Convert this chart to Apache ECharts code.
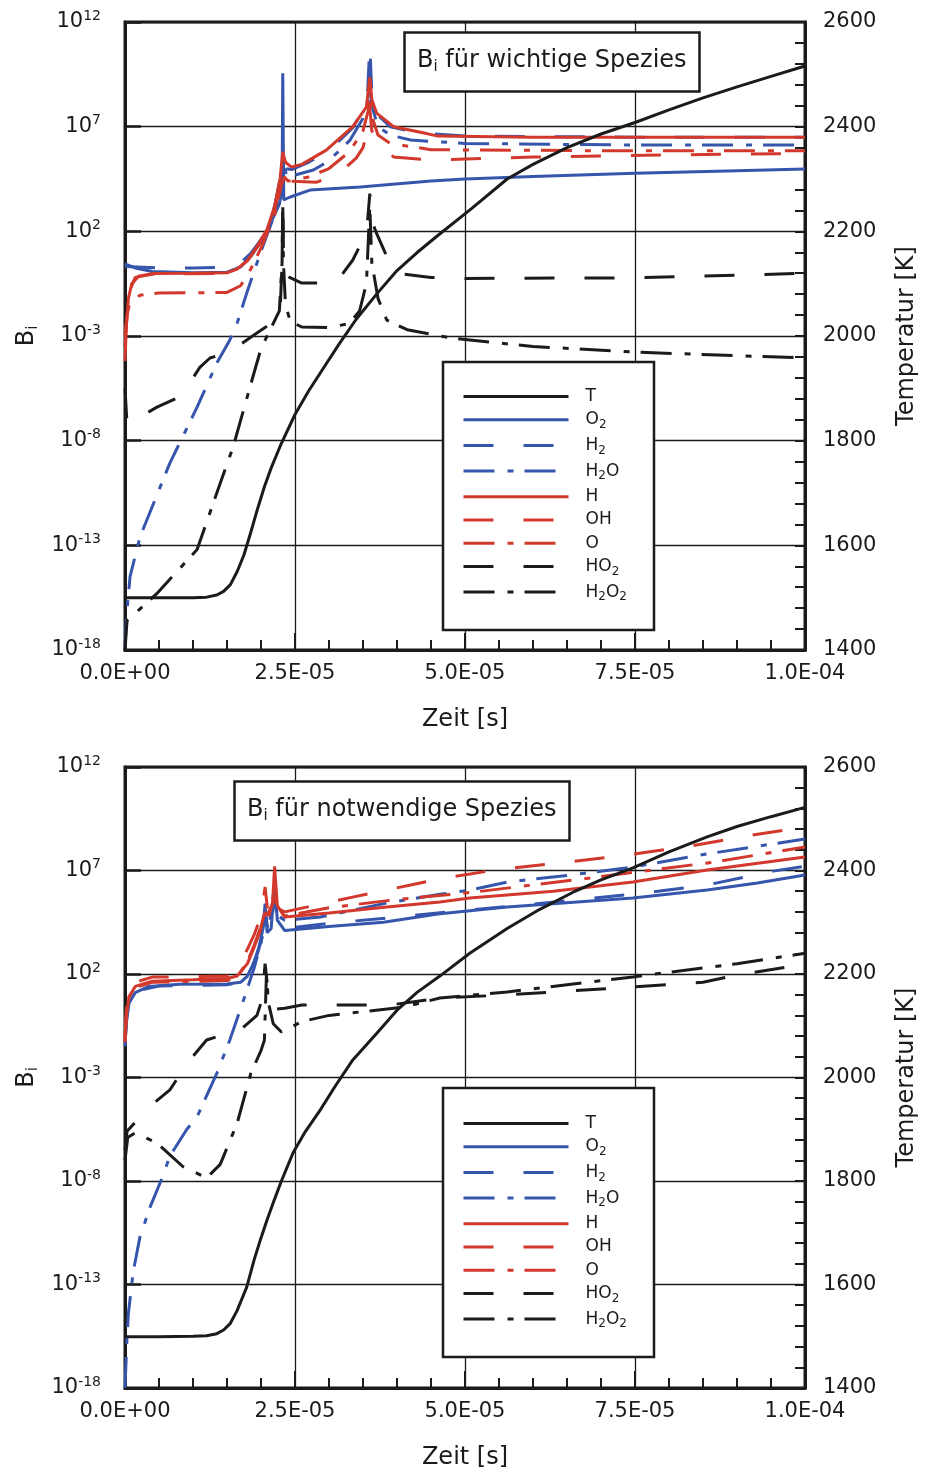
<!DOCTYPE html>
<html>
<head>
<meta charset="utf-8">
<script src="https://cdn.jsdelivr.net/npm/echarts@6/dist/echarts.min.js"></script>
<style>
  html, body { margin: 0; padding: 0; background: #fff; }
  #chart { width: 927px; height: 1472px; }
</style>
</head>
<body>
<div id="chart"></div>
<script>
// Time in units of 1e-5 s; species values are exponents (log10 of B_i); temperature in K.
const SPECIES = ['T', 'O2', 'H2', 'H2O', 'H', 'OH', 'O', 'HO2', 'H2O2'];
const EXP_MIN = -18, EXP_MAX = 12;
const TEMP_MIN = 1400, TEMP_MAX = 2600;

// ---- upper panel: B_i für wichtige Spezies ----
const topT = [[0,1500],[0.5,1500],[1.0,1500],[1.2,1501],[1.35,1505],[1.45,1512],[1.55,1525],[1.65,1550],[1.75,1582],[1.85,1625],[1.95,1670],[2.05,1712],[2.15,1748],[2.3,1795],[2.5,1850],[2.7,1895],[2.9,1935],[3.15,1985],[3.4,2032],[3.7,2080],[4.0,2125],[4.3,2160],[4.6,2192],[5.1,2244],[5.62,2300],[6.0,2328],[6.5,2360],[7.0,2386],[7.5,2408],[8.0,2432],[8.5,2455],[9.0,2476],[9.5,2496],[10,2516]];
const topO2 = [[0,0.45],[0.15,0.25],[0.4,0.08],[1.0,0.02],[1.5,0.05],[1.7,0.3],[1.85,0.8],[2.0,1.5],[2.09,2.06],[2.2,2.8],[2.27,3.3],[2.31,4.0],[2.32,9.55],[2.335,3.5],[2.43,3.64],[2.72,3.97],[3.46,4.12],[4.5,4.4],[5.0,4.5],[6.0,4.62],[7.5,4.78],[9.0,4.9],[10,4.98]];
const topH2 = [[0,0.32],[0.5,0.25],[1.0,0.25],[1.5,0.28],[1.7,0.5],[1.85,0.95],[2.0,1.6],[2.1,2.2],[2.2,3.2],[2.28,4.5],[2.32,5.4],[2.36,5.0],[2.45,4.95],[2.7,5.3],[3.0,5.85],[3.35,6.95],[3.5,7.8],[3.57,8.8],[3.6,10.9],[3.63,8.6],[3.7,7.6],[3.9,7.0],[4.3,6.7],[5.0,6.55],[7.5,6.5],[10,6.5]];
const topH2O = [[0,-18],[0.02,-16.5],[0.074,-14.5],[0.22,-12.6],[0.66,-9.07],[1.06,-6.4],[1.35,-4.29],[1.54,-3.2],[1.65,-2.38],[1.79,-0.95],[1.99,0.96],[2.24,3.16],[2.3,4.6],[2.33,5.5],[2.37,4.7],[2.4,4.6],[2.77,4.93],[2.97,5.3],[3.16,5.88],[3.31,6.36],[3.5,7.4],[3.58,8.3],[3.6,8.8],[3.63,8.0],[3.72,7.0],[3.9,6.6],[4.2,6.36],[5.0,6.2],[7.5,6.12],[10,6.12]];
const topH = [[0,-4.2],[0.02,-2.5],[0.05,-1.2],[0.1,-0.5],[0.2,-0.15],[0.4,-0.02],[1.0,0.0],[1.5,0.02],[1.65,0.2],[1.8,0.6],[1.88,0.96],[2.0,1.6],[2.09,2.1],[2.2,3.2],[2.28,4.5],[2.32,5.8],[2.36,5.3],[2.45,5.07],[2.6,5.2],[2.96,5.88],[3.35,7.0],[3.55,7.94],[3.6,9.37],[3.63,8.3],[3.7,7.65],[3.95,7.0],[4.4,6.7],[4.6,6.55],[6,6.5],[10,6.5]];
const topOH = [[0,-3.5],[0.05,-1.0],[0.15,-0.2],[0.4,-0.05],[1.5,0.0],[1.65,0.2],[1.8,0.6],[2.0,1.5],[2.2,3.0],[2.3,4.4],[2.33,4.9],[2.4,4.4],[2.82,4.35],[3.16,4.8],[3.4,5.5],[3.5,6.0],[3.58,7.0],[3.6,7.9],[3.63,6.8],[3.7,6.36],[3.95,5.55],[4.5,5.4],[6,5.55],[8,5.65],[10,5.72]];
const topO = [[0,-3.0],[0.03,-2.0],[0.07,-1.4],[0.22,-1.05],[0.5,-0.95],[1.5,-0.92],[1.7,-0.6],[1.85,0.2],[2.0,1.2],[2.2,2.8],[2.3,4.2],[2.34,4.6],[2.4,4.4],[2.7,4.6],[3.0,5.0],[3.3,5.8],[3.5,6.8],[3.58,7.8],[3.6,8.5],[3.63,7.5],[3.72,6.6],[3.9,6.2],[4.5,5.9],[7,5.85],[10,5.85]];
const topHO2 = [[0,-5.5],[0.03,-7.2],[0.15,-7.0],[0.47,-6.4],[0.81,-5.9],[1.0,-5.0],[1.1,-4.5],[1.25,-4.05],[1.4,-3.9],[1.7,-3.4],[1.94,-2.86],[2.15,-2.4],[2.28,-1.9],[2.31,0.5],[2.32,3.5],[2.33,1.0],[2.36,0.0],[2.42,-0.2],[2.6,-0.47],[3.1,-0.47],[3.35,0.63],[3.5,1.6],[3.57,2.6],[3.6,3.8],[3.63,2.5],[3.7,1.9],[3.85,0.8],[4.0,0.0],[4.5,-0.2],[5,-0.25],[7.5,-0.22],[9,-0.1],[10,0.0]];
const topH2O2 = [[0,-18],[0.03,-16.6],[0.47,-15.3],[1.06,-13.2],[1.35,-10.5],[1.59,-8.3],[1.88,-4.96],[2.0,-3.6],[2.15,-2.6],[2.27,-1.8],[2.31,0.5],[2.32,3.2],[2.33,0.5],[2.36,-1.5],[2.43,-2.3],[2.6,-2.57],[3.0,-2.6],[3.3,-2.4],[3.45,-1.8],[3.55,-0.5],[3.6,3.2],[3.63,0.5],[3.72,-1.2],[3.85,-2.24],[4.15,-2.7],[4.8,-3.1],[6,-3.5],[7.5,-3.77],[10,-4.05]];

// ---- lower panel: B_i für notwendige Spezies ----
const botT = [[0,1499],[0.5,1499],[1.0,1500],[1.2,1501],[1.35,1505],[1.45,1512],[1.55,1525],[1.65,1550],[1.79,1595],[1.9,1648],[2.0,1690],[2.09,1725],[2.2,1765],[2.3,1800],[2.47,1854],[2.65,1895],[2.87,1937],[3.1,1985],[3.35,2034],[3.7,2085],[4.0,2130],[4.3,2165],[4.63,2196],[5.07,2240],[5.62,2288],[6.1,2325],[6.59,2358],[7.0,2382],[7.47,2405],[8.0,2436],[8.56,2465],[9.0,2485],[9.5,2504],[10,2522]];
const botO2 = [[0,-1.5],[0.02,-0.3],[0.06,0.6],[0.15,1.1],[0.35,1.4],[0.8,1.5],[1.5,1.52],[1.7,1.6],[1.8,1.9],[1.9,2.6],[1.97,3.3],[2.03,4.2],[2.06,5.4],[2.09,4.0],[2.15,4.2],[2.2,6.4],[2.24,4.6],[2.35,4.1],[3.0,4.3],[3.8,4.5],[4.6,4.9],[5.62,5.24],[7.47,5.67],[8.56,6.06],[9.3,6.4],[10,6.78]];
const botH2 = [[0,-1.3],[0.03,0.0],[0.08,0.8],[0.2,1.2],[0.5,1.42],[1.5,1.48],[1.7,1.6],[1.85,2.2],[1.95,3.0],[2.02,3.8],[2.06,4.6],[2.1,4.3],[2.2,5.5],[2.25,4.5],[2.35,4.2],[3.0,4.45],[4.0,4.75],[4.6,4.95],[5.85,5.33],[6.6,5.57],[7.6,5.9],[8.56,6.3],[9.53,6.97],[10,7.2]];
const botH2O = [[0,-18],[0.03,-15.5],[0.05,-14.4],[0.12,-12.4],[0.22,-10.7],[0.37,-9.25],[0.54,-7.9],[0.66,-6.8],[0.91,-5.5],[1.06,-4.9],[1.35,-2.8],[1.54,-1.2],[1.76,0.9],[1.9,2.3],[2.0,3.5],[2.06,5.0],[2.1,4.2],[2.2,6.2],[2.25,4.8],[2.35,4.6],[2.87,4.75],[3.85,5.43],[4.63,5.85],[5.07,6.05],[5.62,6.44],[6.6,6.8],[7.47,7.17],[8.56,7.8],[10,8.52]];
const botH = [[0,-1.2],[0.02,0.0],[0.06,0.9],[0.15,1.4],[0.4,1.65],[1.0,1.72],[1.5,1.78],[1.65,1.9],[1.8,2.5],[1.9,3.3],[1.98,4.0],[2.04,4.8],[2.1,4.9],[2.17,5.4],[2.2,7.2],[2.24,5.3],[2.35,4.75],[3.0,4.95],[3.85,5.24],[4.63,5.48],[5.07,5.67],[6.3,6.0],[7.47,6.44],[8.56,7.02],[10,7.65]];
const botOH = [[0,-1.0],[0.02,0.3],[0.06,1.1],[0.15,1.6],[0.4,1.85],[1.5,1.9],[1.65,2.2],[1.8,3.2],[1.9,3.9],[2.0,4.8],[2.06,6.2],[2.1,5.0],[2.18,5.6],[2.22,5.2],[2.35,5.0],[2.9,5.4],[3.4,5.75],[4.2,6.3],[4.63,6.6],[5.5,7.05],[6.35,7.35],[7.4,7.75],[8.35,8.2],[9.2,8.7],[10,9.1]];
const botO = [[0,-1.3],[0.02,0.0],[0.06,0.9],[0.15,1.35],[0.4,1.6],[1.5,1.68],[1.65,1.85],[1.8,2.6],[1.9,3.4],[2.0,4.3],[2.06,5.0],[2.1,4.6],[2.2,5.8],[2.25,5.0],[2.35,4.8],[3.0,5.2],[4.0,5.6],[5.12,5.95],[6.84,6.64],[8.65,7.4],[10,8.14]];
const botHO2 = [[0,-6.5],[0.03,-5.6],[0.34,-4.47],[0.66,-3.6],[0.93,-2.25],[1.2,-1.19],[1.45,-0.92],[1.66,-0.8],[1.94,0.0],[2.02,0.8],[2.06,2.5],[2.09,1.6],[2.14,0.9],[2.2,0.3],[2.35,0.35],[2.6,0.5],[3.9,0.5],[4.63,0.84],[5.62,0.99],[7.47,1.37],[8.5,1.6],[9.0,1.95],[10,2.48]];
const botH2O2 = [[0,-7.0],[0.04,-5.9],[0.15,-5.68],[0.47,-6.16],[0.85,-7.3],[1.2,-7.85],[1.4,-7.2],[1.65,-5.2],[1.85,-2.8],[2.0,-1.7],[2.05,-1.2],[2.08,2.0],[2.11,0.6],[2.18,-0.4],[2.3,-0.8],[2.6,-0.3],[3.0,0.0],[4.1,0.4],[4.63,0.84],[5.62,1.13],[7.47,1.86],[9.0,2.5],[10,3.0]];

const TOP = { T: topT, O2: topO2, H2: topH2, H2O: topH2O, H: topH, OH: topOH, O: topO, HO2: topHO2, H2O2: topH2O2 };
const BOT = { T: botT, O2: botO2, H2: botH2, H2O: botH2O, H: botH, OH: botOH, O: botO, HO2: botHO2, H2O2: botH2O2 };

const FONT = 'DejaVu Sans';
const INK = '#1b1b1b';
const BLUE = '#3656ad';
const RED = '#d2382c';
const DASH = [30, 30];
const DASHDOT = [31, 13, 6, 11];
const STYLE = {
  T:    { color: INK,  type: 'solid' },
  O2:   { color: BLUE, type: 'solid' },
  H2:   { color: BLUE, type: DASH },
  H2O:  { color: BLUE, type: DASHDOT },
  H:    { color: RED,  type: 'solid' },
  OH:   { color: RED,  type: DASH },
  O:    { color: RED,  type: DASHDOT },
  HO2:  { color: INK,  type: DASH },
  H2O2: { color: INK,  type: DASHDOT }
};
const LEGEND_TEXT = {
  T: '{a|T}', O2: '{a|O}{s|2}', H2: '{a|H}{s|2}', H2O: '{a|H}{s|2}{n|O}',
  H: '{a|H}', OH: '{a|OH}', O: '{a|O}', HO2: '{a|HO}{s|2}', H2O2: '{a|H}{s|2}{n|O}{s|2}'
};

function timeLabel(v) {
  if (v === 0) return '0.0E+00';
  let val = v * 1e-5;
  let e = Math.floor(Math.log10(val) + 1e-9);
  let m = val / Math.pow(10, e);
  if (m >= 9.95) { m /= 10; e += 1; }
  return m.toFixed(1) + 'E' + (e < 0 ? '-' : '+') + String(Math.abs(e)).padStart(2, '0');
}

const PANELS = [
  { data: TOP, grid: { left: 125, top: 22, width: 681, height: 628 },
    title: 'wichtige', titlePos: { left: 404, top: 30 },
    legendTop: 388, box: { x: 443, y: 362, width: 211, height: 268 } },
  { data: BOT, grid: { left: 125, top: 767, width: 680, height: 621 },
    title: 'notwendige', titlePos: { left: 234, top: 779 },
    legendTop: 1115, box: { x: 443, y: 1088, width: 211, height: 269 } }
];

const grids = [], xAxes = [], yAxes = [], series = [], titles = [], legends = [], graphics = [];

PANELS.forEach((p, i) => {
  grids.push(Object.assign({ show: true, borderColor: INK, borderWidth: 3, backgroundColor: 'transparent' }, p.grid));

  xAxes.push({
    type: 'value', gridIndex: i, min: 0, max: 10, interval: 2.5,
    name: 'Zeit [s]', nameLocation: 'middle', nameGap: 58,
    nameTextStyle: { fontFamily: FONT, fontSize: 24, color: INK },
    axisLine: { show: true, lineStyle: { color: INK, width: 3 } },
    axisTick: { show: true, inside: true, length: 17, lineStyle: { color: INK, width: 2 } },
    minorTick: { show: true, splitNumber: 5, length: 10, lineStyle: { color: INK, width: 2 } },
    axisLabel: { formatter: timeLabel, margin: 13, fontFamily: FONT, fontSize: 21, color: INK },
    splitLine: { show: true, lineStyle: { color: INK, width: 1.3 } }
  });

  yAxes.push({
    type: 'value', gridIndex: i, position: 'left',
    min: 0, max: EXP_MAX - EXP_MIN, interval: 5,
    name: '{n|B}{s|i}', nameLocation: 'middle', nameGap: 82, nameRotate: 90,
    nameTextStyle: { fontFamily: FONT, color: INK, rich: {
      n: { fontFamily: FONT, fontSize: 24, color: INK, lineHeight: 28 },
      s: { fontFamily: FONT, fontSize: 15, color: INK, lineHeight: 14, verticalAlign: 'bottom' }
    } },
    axisLine: { show: true, lineStyle: { color: INK, width: 3 } },
    axisTick: { show: true, inside: true, length: 16, lineStyle: { color: INK, width: 2.5 } },
    axisLabel: {
      margin: 24, color: INK,
      formatter: v => '{b|10}{p|' + (v + EXP_MIN) + '}',
      rich: {
        b: { fontFamily: FONT, fontSize: 21, color: INK, lineHeight: 26 },
        p: { fontFamily: FONT, fontSize: 14, color: INK, lineHeight: 14, verticalAlign: 'top' }
      }
    },
    splitLine: { show: true, lineStyle: { color: INK, width: 1.3 } }
  });

  yAxes.push({
    type: 'value', gridIndex: i, position: 'right',
    min: TEMP_MIN, max: TEMP_MAX, interval: 200,
    name: 'Temperatur [K]', nameLocation: 'middle', nameGap: 90, nameRotate: 90,
    nameTextStyle: { fontFamily: FONT, fontSize: 24, color: INK },
    axisLine: { show: true, lineStyle: { color: INK, width: 3 } },
    axisTick: { show: true, inside: true, length: 10, lineStyle: { color: INK, width: 2 } },
    minorTick: { show: true, splitNumber: 5, length: 10, lineStyle: { color: INK, width: 2 } },
    axisLabel: { margin: 18, fontFamily: FONT, fontSize: 21, color: INK, formatter: v => String(v) },
    splitLine: { show: false }
  });

  SPECIES.forEach(name => {
    const st = STYLE[name];
    const isT = name === 'T';
    series.push({
      name, type: 'line', xAxisIndex: i, yAxisIndex: isT ? 2 * i + 1 : 2 * i,
      data: isT ? p.data[name] : p.data[name].map(([t, e]) => [t, e - EXP_MIN]),
      showSymbol: false, symbol: 'none', symbolSize: 0,
      smooth: false,
      lineStyle: { color: st.color, width: 3, type: st.type },
      itemStyle: { color: st.color },
      emphasis: { disabled: true },
      z: isT ? 3 : 2
    });
  });

  titles.push({
    text: '{n|B}{s|i}{n| für ' + p.title + ' Spezies}',
    left: p.titlePos.left, top: p.titlePos.top,
    padding: [17, 13, 17, 13],
    borderColor: INK, borderWidth: 2.5, backgroundColor: '#fff',
    textStyle: { fontWeight: 'normal', rich: {
      n: { fontFamily: FONT, fontSize: 24, fontWeight: 'normal', color: INK, lineHeight: 28 },
      s: { fontFamily: FONT, fontSize: 15, fontWeight: 'normal', color: INK, lineHeight: 14, verticalAlign: 'bottom' }
    } },
    z: 8
  });

  legends.push({
    data: SPECIES, orient: 'vertical', left: 462, top: p.legendTop, padding: 0,
    itemWidth: 105, itemHeight: 14, itemGap: 6.2, selectedMode: false,
    formatter: n => LEGEND_TEXT[n],
    lineStyle: { width: 3 },
    itemStyle: { color: 'rgba(0,0,0,0)', borderColor: 'rgba(0,0,0,0)', borderWidth: 0, opacity: 0 },
    textStyle: { color: INK, rich: {
      a: { fontFamily: FONT, fontSize: 17, color: INK, lineHeight: 22, padding: [0, 0, 0, 12] },
      n: { fontFamily: FONT, fontSize: 17, color: INK, lineHeight: 22 },
      s: { fontFamily: FONT, fontSize: 12, color: INK, lineHeight: 12, verticalAlign: 'bottom' }
    } },
    z: 9
  });

  graphics.push({
    type: 'rect', z: 7,
    shape: p.box,
    style: { fill: '#fff', stroke: INK, lineWidth: 2.5 }
  });
});

const chart = echarts.init(document.getElementById('chart'), null, { renderer: 'canvas' });
chart.setOption({
  animation: false,
  backgroundColor: '#fff',
  title: titles,
  legend: legends,
  grid: grids,
  xAxis: xAxes,
  yAxis: yAxes,
  graphic: graphics,
  series: series
});
</script>
</body>
</html>
